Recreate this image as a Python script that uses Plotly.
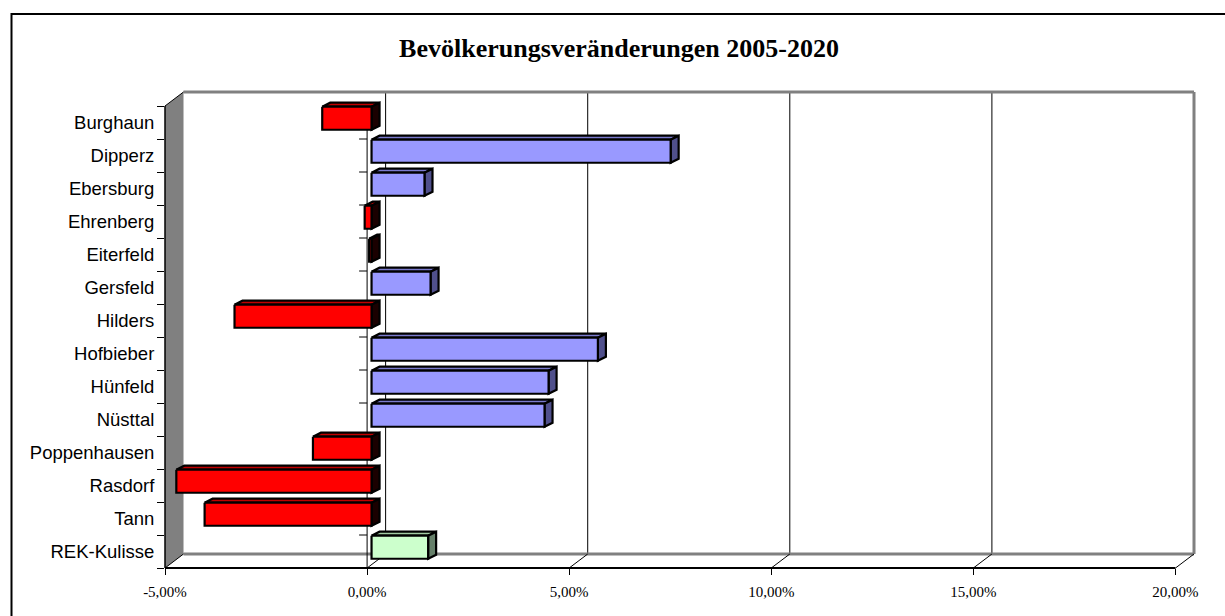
import plotly.graph_objects as go

# ---------------- data ----------------
categories = ["Burghaun", "Dipperz", "Ebersburg", "Ehrenberg", "Eiterfeld", "Gersfeld",
              "Hilders", "Hofbieber", "Hünfeld", "Nüsttal", "Poppenhausen", "Rasdorf",
              "Tann", "REK-Kulisse"]
values = [-1.22, 7.40, 1.31, -0.17, -0.06, 1.46, -3.39, 5.60, 4.38, 4.28, -1.45, -4.83, -4.13, 1.40]
total_category = "REK-Kulisse"
x_tickvals = [-5, 0, 5, 10, 15, 20]
x_ticktext = ["-5,00%", "0,00%", "5,00%", "10,00%", "15,00%", "20,00%"]
title = "Bevölkerungsveränderungen 2005-2020"

# ---------------- geometry / style ----------------
W, H = 1225, 616
ML, MR, MT, MB = 165, 31, 92, 48
n = len(categories)
DX = 0.458            # wall depth in x units (%)
DY = 14 / 33          # wall depth in category units
X0, X1 = x_tickvals[0], x_tickvals[-1] + DX
Y_BOT = n - 0.5
Y_TOP = -0.5 - DY

BAR_SHIFT = 0.11
BAR_CENTER_OFF = 0.13
BAR_HALF = 0.35
BAR_DX = 0.198
BAR_DY = 0.121

palette = {
    "neg": ("#FF0000", "#C00000", "#1A0000"),
    "pos": ("#9999FF", "#7A7ACC", "#50508C"),
    "total": ("#CCFFCC", "#A3CCA3", "#66806A"),
}


def P(x, y):
    return (x - X0) / (X1 - X0), (Y_BOT - y) / (Y_BOT - Y_TOP)


def px2paper(px, py):
    return (px - ML) / (W - ML - MR), (H - MB - py) / (H - MT - MB)


shapes = []


def sline(x0, y0, x1, y1, color, width):
    a, b = P(x0, y0)
    c, d = P(x1, y1)
    shapes.append(dict(type="line", xref="paper", yref="paper", x0=a, y0=b, x1=c, y1=d,
                       line=dict(color=color, width=width), layer="below"))


def spoly(pts, fill):
    pp = [P(x, y) for x, y in pts]
    path = "M " + " L ".join(f"{a},{b}" for a, b in pp) + " Z"
    shapes.append(dict(type="path", xref="paper", yref="paper", path=path,
                       fillcolor=fill, line=dict(width=0), layer="below"))


xl, xr = x_tickvals[0], x_tickvals[-1]
top_f, bot_f = -0.5, n - 0.5
# back wall
spoly([(xl + DX, top_f - DY), (xr + DX, top_f - DY), (xr + DX, bot_f - DY), (xl + DX, bot_f - DY)], "white")
# gridlines on back wall
for v in x_tickvals[1:-1]:
    sline(v + DX, top_f - DY, v + DX, bot_f - DY, "black", 1)
# grey frame of back wall and floor
sline(xl + DX, top_f - DY, xr + DX, top_f - DY, "#808080", 3)
sline(xr + DX, top_f - DY, xr + DX, bot_f - DY, "#808080", 3)
sline(xl + DX, bot_f - DY, xr + DX, bot_f - DY, "#808080", 3)
# floor diagonals
for v in x_tickvals[1:]:
    sline(v, bot_f, v + DX, bot_f - DY, "black", 1)
# left wall
spoly([(xl, top_f), (xl + DX, top_f - DY), (xl + DX, bot_f - DY), (xl, bot_f)], "#808080")
sline(xl, top_f, xl + DX, top_f - DY, "black", 1)
sline(xl, bot_f, xl + DX, bot_f - DY, "black", 1)
sline(xl, top_f, xl, bot_f, "black", 1.5)
# front floor edge
sline(xl, bot_f, xr, bot_f, "black", 2)
# zero category axis with ticks
sline(0, top_f, 0, bot_f, "black", 1)
for k in range(n + 1):
    sline(-BAR_DX, k - 0.5, 0, k - 0.5, "black", 1)

# outer chart border
bx0, by0 = px2paper(11.5, 14)
bx1, by1 = px2paper(W + 5, H + 5)
shapes.append(dict(type="rect", xref="paper", yref="paper", x0=bx0, y0=by1, x1=bx1, y1=by0,
                   line=dict(color="black", width=2), layer="below"))

fig = go.Figure()


def face(xs, ys, color):
    fig.add_trace(go.Scatter(x=xs + [xs[0]], y=ys + [ys[0]], mode="lines", fill="toself",
                             fillcolor=color, line=dict(color="black", width=2.2),
                             hoverinfo="skip", showlegend=False))


for i, (cat, v) in enumerate(zip(categories, values)):
    key = "total" if cat == total_category else ("neg" if v < 0 else "pos")
    fc, tc, sc = palette[key]
    xa = BAR_SHIFT + min(v, 0)
    xb = BAR_SHIFT + max(v, 0)
    yt = i - BAR_CENTER_OFF - BAR_HALF
    yb = i - BAR_CENTER_OFF + BAR_HALF
    face([xa, xb, xb + BAR_DX, xa + BAR_DX], [yt, yt, yt - BAR_DY, yt - BAR_DY], tc)
    face([xb, xb, xb + BAR_DX, xb + BAR_DX], [yt, yb, yb - BAR_DY, yt - BAR_DY], sc)
    face([xa, xb, xb, xa], [yt, yt, yb, yb], fc)

fig.update_layout(
    width=W, height=H,
    margin=dict(l=ML, r=MR, t=MT, b=MB),
    paper_bgcolor="white", plot_bgcolor="rgba(0,0,0,0)",
    shapes=shapes,
    title=dict(text=f"<b>{title}</b>", x=619 / W, xanchor="center", xref="container",
               y=1 - 48 / H, yanchor="middle", yref="container",
               font=dict(family="Liberation Serif, Times New Roman, serif", size=26, color="black")),
    xaxis=dict(range=[X0, X1], tickvals=x_tickvals, ticktext=x_ticktext, ticks="outside",
               ticklen=6, tickcolor="black", tickwidth=1, showgrid=False, zeroline=False,
               showline=False, ticklabelstandoff=4,
               tickfont=dict(family="Liberation Serif, Times New Roman, serif",
                             size=15, color="black")),
    yaxis=dict(range=[Y_BOT, Y_TOP], tickvals=list(range(n)), ticktext=categories,
               ticks="outside", ticklen=6, tickcolor="rgba(0,0,0,0)", showgrid=False,
               zeroline=False, showline=False,
               minor=dict(tickvals=[k - 0.5 for k in range(n + 1)], ticks="outside",
                          ticklen=7, tickcolor="black", tickwidth=1, showgrid=False),
               tickfont=dict(family="Liberation Sans, Arial, sans-serif", size=18.5, color="black")),
)

fig.write_html("out.html", config={"displayModeBar": False},
               post_script="document.body.style.margin='0';document.body.style.overflow='hidden';")
